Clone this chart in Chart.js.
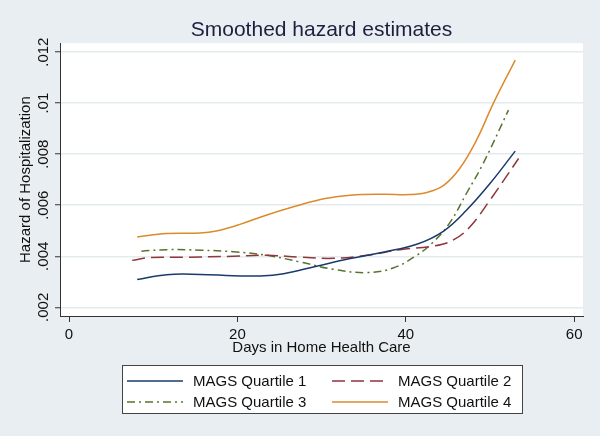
<!DOCTYPE html>
<html>
<head>
<meta charset="utf-8">
<title>Smoothed hazard estimates</title>
<script src="https://cdn.jsdelivr.net/npm/chart.js@4"></script>
<style>
  html, body { margin: 0; padding: 0; background: #e8eef1; }
  #wrap { width: 600px; height: 436px; }
</style>
</head>
<body>
<div id="wrap"><canvas id="chart" width="600" height="436"></canvas></div>
<script>
// values
const q1Days = [8.1, 11.6, 15.6, 19.5, 22.7, 25.5, 29.4, 33.4, 37.3, 41.3, 44.5, 47.2, 50.0, 53.0];
const q1Hazard = [.00309, .00328, .00329, .00324, .00323, .00332, .00361, .00391, .00416, .00447, .00499, .0058, .00685, .00812];

const q2Days = [7.5, 9.6, 13.6, 19.5, 23.5, 27.4, 31.4, 35.4, 39.3, 43.3, 45.6, 47.6, 50.0, 53.4];
const q2Hazard = [.00384, .00395, .00396, .004, .00404, .00397, .00392, .00404, .00426, .0044, .00463, .00515, .0062, .00783];

const q3Days = [8.6, 11.6, 15.6, 19.5, 23.5, 27.4, 31.4, 35.4, 38.5, 41.3, 43.3, 45.3, 47.2, 49.2, 52.2];
const q3Hazard = [.0042, .00426, .00424, .00418, .00404, .00378, .00349, .00336, .00354, .00404, .00457, .00535, .00646, .00764, .00973];

const q4Days = [8.1, 11.6, 15.6, 17.5, 20.3, 23.5, 27.4, 30.6, 33.4, 37.3, 40.5, 42.5, 44.5, 46.4, 48.4, 50.4, 53.0];
const q4Hazard = [.00476, .00489, .00491, .00499, .00525, .00562, .00601, .00627, .00639, .00643, .00642, .0065, .00678, .00744, .00855, .00999, .01169];

const seriesNames = ['MAGS Quartile 1', 'MAGS Quartile 2', 'MAGS Quartile 3', 'MAGS Quartile 4'];
const xTickVals = [0, 20, 40, 60];
const yTickVals = [.002, .004, .006, .008, .01, .012];
const yTickLabels = ['.002', '.004', '.006', '.008', '.01', '.012'];

const FONT = '"Liberation Sans", Arial, Helvetica, sans-serif';
Chart.defaults.font.family = FONT;

const toPoints = (xs, ys) => xs.map((x, i) => ({ x: x, y: ys[i] }));

const lineStyle = [
    { color: '#1a3a6b', dash: [] },
    { color: '#90353b', dash: [13, 6] },
    { color: '#55752f', dash: [8, 4, 2, 4] },
    { color: '#dc8a2e', dash: [] }
];

const plotBg = {
    id: 'plotBg',
    beforeDraw(chart) {
        const { ctx, chartArea: a } = chart;
        ctx.save();
        ctx.fillStyle = '#e8eef1';
        ctx.fillRect(0, 0, chart.width, chart.height);
        ctx.fillStyle = '#ffffff';
        ctx.fillRect(a.left, a.top, a.right - a.left, a.bottom - a.top);
        ctx.restore();
    }
};

// Stata-style vertical y tick labels
const yLabels = {
    id: 'yLabels',
    afterDraw(chart) {
        const s = chart.scales.y, ctx = chart.ctx;
        ctx.save();
        ctx.font = '15px ' + FONT;
        ctx.fillStyle = '#111';
        ctx.textAlign = 'center';
        ctx.textBaseline = 'middle';
        yTickVals.forEach((v, i) => {
            ctx.save();
            ctx.translate(s.right - 16, s.getPixelForValue(v));
            ctx.rotate(-Math.PI / 2);
            ctx.fillText(yTickLabels[i], 0, 0);
            ctx.restore();
        });
        ctx.restore();
    }
};

// boxed two-column legend under the axis title
const boxLegend = {
    id: 'boxLegend',
    afterDraw(chart) {
        const ctx = chart.ctx;
        const left = 122, top = chart.chartArea.bottom + 49, w = 400, h = 48;
        ctx.save();
        ctx.fillStyle = '#fff';
        ctx.fillRect(left, top, w, h);
        ctx.strokeStyle = '#444';
        ctx.lineWidth = 1;
        ctx.strokeRect(left + 0.5, top + 0.5, w, h);
        ctx.font = '15px ' + FONT;
        ctx.fillStyle = '#111';
        ctx.textBaseline = 'middle';
        chart.data.datasets.forEach((ds, i) => {
            const col = i % 2, row = Math.floor(i / 2);
            const lx = left + 5 + col * 205;
            const ly = top + 16 + row * 21;
            ctx.beginPath();
            ctx.setLineDash(ds.borderDash);
            ctx.strokeStyle = ds.borderColor;
            ctx.lineWidth = 1.5;
            ctx.moveTo(lx, ly);
            ctx.lineTo(lx + 56, ly);
            ctx.stroke();
            ctx.setLineDash([]);
            ctx.fillText(ds.label, lx + 66, ly + 1);
        });
        ctx.restore();
    }
};

const datasets = [
    toPoints(q1Days, q1Hazard),
    toPoints(q2Days, q2Hazard),
    toPoints(q3Days, q3Hazard),
    toPoints(q4Days, q4Hazard)
].map((pts, i) => ({
    label: seriesNames[i],
    data: pts,
    borderColor: lineStyle[i].color,
    borderDash: lineStyle[i].dash,
    borderWidth: 1.5,
    pointRadius: 0,
    fill: false,
    tension: 0.4
}));

new Chart(document.getElementById('chart'), {
    type: 'line',
    data: { datasets: datasets },
    options: {
        responsive: false,
        animation: false,
        layout: { padding: { left: 0, right: 17, top: 0, bottom: 78 } },
        plugins: {
            legend: { display: false },
            tooltip: { enabled: false },
            title: {
                display: true,
                text: 'Smoothed hazard estimates',
                fullSize: false,
                color: '#1c1f3e',
                font: { size: 21, weight: 'normal' },
                padding: { top: 18, bottom: 0 }
            }
        },
        scales: {
            x: {
                type: 'linear',
                min: -1.07,
                max: 61.05,
                afterBuildTicks: s => { s.ticks = xTickVals.map(v => ({ value: v })); },
                afterFit: s => { s.height = 42; },
                grid: { drawOnChartArea: false, drawTicks: true, tickLength: 6, tickColor: '#333' },
                border: { color: '#333', width: 1 },
                ticks: { color: '#111', font: { size: 15 }, padding: 4, maxRotation: 0 },
                title: {
                    display: true,
                    text: 'Days in Home Health Care',
                    color: '#111',
                    font: { size: 15 },
                    padding: { top: 0, bottom: 1 }
                }
            },
            y: {
                type: 'linear',
                min: .00166,
                max: .01235,
                afterBuildTicks: s => { s.ticks = yTickVals.map(v => ({ value: v })); },
                afterFit: s => { s.width = 60; },
                grid: { color: '#e4ebee', lineWidth: 1.5, drawTicks: true, tickLength: 5, tickColor: '#333', tickWidth: 1 },
                border: { color: '#333', width: 1 },
                ticks: { display: false },
                title: {
                    display: true,
                    text: 'Hazard of Hospitalization',
                    color: '#111',
                    font: { size: 15 },
                    padding: { top: 17, bottom: 0 }
                }
            }
        }
    },
    plugins: [plotBg, yLabels, boxLegend]
});
</script>
</body>
</html>
